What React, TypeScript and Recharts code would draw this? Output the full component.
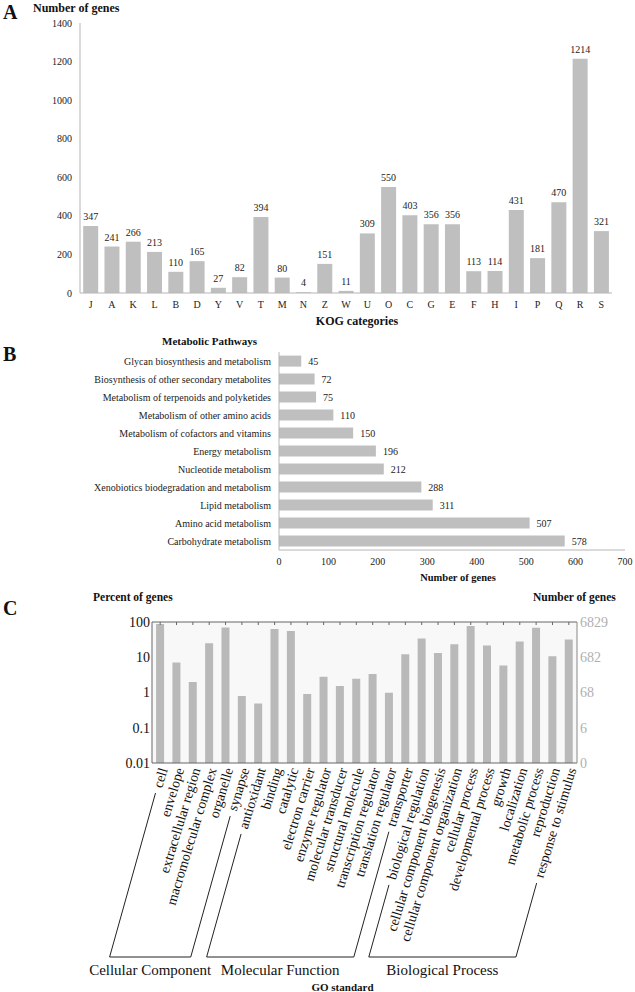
import { Bar, BarChart, CartesianGrid, LabelList, XAxis, YAxis } from 'recharts'

const SERIF = '"Liberation Serif", "Times New Roman", serif'

// A: KOG categories
const kogCategories = ['J', 'A', 'K', 'L', 'B', 'D', 'Y', 'V', 'T', 'M', 'N', 'Z', 'W', 'U', 'O', 'C', 'G', 'E', 'F', 'H', 'I', 'P', 'Q', 'R', 'S']
const kogCounts = [347, 241, 266, 213, 110, 165, 27, 82, 394, 80, 4, 151, 11, 309, 550, 403, 356, 356, 113, 114, 431, 181, 470, 1214, 321]
const kogTicks = [0, 200, 400, 600, 800, 1000, 1200, 1400]

// B: KEGG metabolic pathways
const pathways = [
  'Glycan biosynthesis and metabolism',
  'Biosynthesis of other secondary metabolites',
  'Metabolism of terpenoids and polyketides',
  'Metabolism of other amino acids',
  'Metabolism of cofactors and vitamins',
  'Energy metabolism',
  'Nucleotide metabolism',
  'Xenobiotics biodegradation and metabolism',
  'Lipid metabolism',
  'Amino acid metabolism',
  'Carbohydrate metabolism',
]
const pathwayCounts = [45, 72, 75, 110, 150, 196, 212, 288, 311, 507, 578]
const pathwayTicks = [0, 100, 200, 300, 400, 500, 600, 700]

// C: GO terms
const goTerms = [
  'cell', 'envelope', 'extracellular region', 'macromolecular complex', 'organelle', 'synapse',
  'antioxidant', 'binding', 'catalytic', 'electron carrier', 'enzyme regulator', 'molecular transducer',
  'structural molecule', 'transcription regulator', 'translation regulator', 'transporter',
  'biological regulation', 'cellular component biogenesis', 'cellular component organization',
  'cellular process', 'developmental process', 'growth', 'localization', 'metabolic process',
  'reproduction', 'response to stimulus',
]
const goPercents = [
  88, 7.1, 2.0, 25, 70, 0.8,
  0.49, 63, 56, 0.91, 2.8, 1.53,
  2.46, 3.33, 0.99, 12.2,
  34, 13.3, 23.4,
  77, 21.5, 5.85, 28, 69,
  10.7, 31.7,
]
const percentTicks = [0.01, 0.1, 1, 10, 100]
const countTickLabels = ['0', '6', '68', '682', '6829']
const goGroups = ['Cellular Component', 'Molecular Function', 'Biological Process']
const goGroupFirst = [0, 6, 16]
const goGroupLast = [5, 15, 25]

const kogData = kogCategories.map((cat, i) => ({ cat, count: kogCounts[i] }))
const keggData = pathways.map((pathway, i) => ({ pathway, genes: pathwayCounts[i] }))
const goData = goTerms.map((term, i) => ({ term, percent: goPercents[i] }))

const ANGLE = -73
const DX = Math.cos((ANGLE * Math.PI) / 180)
const DY = Math.sin((ANGLE * Math.PI) / 180)
const SLOPE = 0.28
const BRACKET_DROP = 192

let measureCtx: CanvasRenderingContext2D | null = null
const textWidth = (s: string) => {
  if (!measureCtx) measureCtx = document.createElement('canvas').getContext('2d')
  if (!measureCtx) return s.length * 6.2
  measureCtx.font = `14px ${SERIF}`
  return measureCtx.measureText(s).width
}

const bracketStart: Record<number, number> = {}

function GoTick(props: any) {
  const { x, y, payload } = props
  const i: number = typeof props.index === 'number' ? props.index : payload.index
  const label = String(payload.value)
  const ex = x + 3
  const ey = y + 3
  const len = textWidth(label) + 6
  const tx = ex - DX * len
  const ty = ey - DY * len
  const baseY = y + BRACKET_DROP
  const bx = tx - SLOPE * (baseY - ty)
  const g1 = goGroupFirst.indexOf(i)
  const g2 = goGroupLast.indexOf(i)
  if (g1 >= 0) bracketStart[g1] = bx

  return (
    <g>
      <text
        x={ex}
        y={ey}
        dy="0.35em"
        textAnchor="end"
        transform={`rotate(${ANGLE} ${ex} ${ey})`}
        fontSize={14}
        fontFamily={SERIF}
        fill="#111"
      >
        {label}
      </text>
      {(g1 >= 0 || g2 >= 0) && <line x1={tx} y1={ty} x2={bx} y2={baseY} stroke="#222" strokeWidth={1} />}
      {g2 >= 0 && bracketStart[g2] !== undefined && (
        <>
          <line x1={bracketStart[g2]} y1={baseY} x2={bx} y2={baseY} stroke="#222" strokeWidth={1} />
          <text x={(bracketStart[g2] + bx) / 2} y={baseY + 18} textAnchor="middle" fontSize={15} fontFamily={SERIF} fill="#111">
            {goGroups[g2]}
          </text>
        </>
      )}
    </g>
  )
}

function PathwayTick(props: any) {
  const { x, y, payload } = props
  return (
    <text x={x} y={y} dy="0.35em" textAnchor="end" fontSize={10} fontFamily={SERIF} fill="#222">
      {payload.value}
    </text>
  )
}

const title = (text: string, left: number, top: number, size: number) => (
  <div style={{ position: 'absolute', left, top, fontSize: size, fontWeight: 'bold', lineHeight: 1, whiteSpace: 'nowrap' }}>
    {text}
  </div>
)

const tickStyle = { fontSize: 10, fill: '#222', fontFamily: SERIF }

export default function App() {
  return (
    <div style={{ position: 'absolute', left: 0, top: 0, width: 635, height: 992, background: '#fff', fontFamily: SERIF, color: '#111' }}>
      {title('A', 3, 2, 20)}
      {title('Number of genes', 33, 2, 12)}
      {title('B', 3, 344, 20)}
      {title('Metabolic Pathways', 162, 336, 11)}
      {title('C', 3, 598, 20)}
      {title('Percent of genes', 93, 592, 11.5)}
      {title('Number of genes', 533, 592, 11.5)}

      <div style={{ position: 'absolute', left: 0, top: 0 }}>
        <BarChart width={635} height={330} data={kogData} margin={{ top: 23, right: 23, left: 20, bottom: 0 }} barCategoryGap="15%">
          <XAxis
            dataKey="cat"
            interval={0}
            tickLine={false}
            axisLine={{ stroke: '#b5b5b5' }}
            tick={tickStyle}
            height={37}
            label={{ value: 'KOG categories', position: 'insideBottom', offset: 5, dx: 11, fontSize: 12, fontWeight: 'bold', fill: '#111', fontFamily: SERIF }}
          />
          <YAxis
            width={60}
            domain={[0, 1400]}
            ticks={kogTicks}
            interval={0}
            tickLine={false}
            axisLine={{ stroke: '#b5b5b5' }}
            tick={tickStyle}
          />
          <Bar dataKey="count" fill="#bfbfbf" isAnimationActive={false}>
            <LabelList dataKey="count" position="top" offset={6} fontSize={10} fill="#222" fontFamily={SERIF} />
          </Bar>
        </BarChart>
      </div>

      <div style={{ position: 'absolute', left: 0, top: 330 }}>
        <BarChart
          layout="vertical"
          width={635}
          height={255}
          data={keggData}
          margin={{ top: 22, right: 10, left: 0, bottom: 0 }}
          barCategoryGap="20%"
        >
          <XAxis
            type="number"
            domain={[0, 700]}
            ticks={pathwayTicks}
            interval={0}
            tickLine={false}
            axisLine={{ stroke: '#b5b5b5' }}
            tick={tickStyle}
            height={35}
            label={{ value: 'Number of genes', position: 'insideBottom', offset: 4, dx: 6, fontSize: 10.5, fontWeight: 'bold', fill: '#111', fontFamily: SERIF }}
          />
          <YAxis
            type="category"
            dataKey="pathway"
            width={279}
            interval={0}
            tickLine={false}
            axisLine={{ stroke: '#b5b5b5' }}
            tick={(p: any) => <PathwayTick {...p} />}
          />
          <Bar dataKey="genes" fill="#bfbfbf" isAnimationActive={false}>
            <LabelList dataKey="genes" position="right" offset={7} fontSize={10} fill="#222" fontFamily={SERIF} />
          </Bar>
        </BarChart>
      </div>

      <div style={{ position: 'absolute', left: 0, top: 610 }}>
        <BarChart width={635} height={382} data={goData} margin={{ top: 11, right: 0, left: 0, bottom: 0 }} barCategoryGap="25%">
          <CartesianGrid horizontal={false} vertical={false} fill="#f8f8f8" />
          <XAxis
            dataKey="term"
            interval={0}
            tickLine={false}
            tickSize={0}
            tickMargin={2}
            axisLine={{ stroke: '#666' }}
            tick={(p: any) => <GoTick {...p} />}
            height={229}
            label={{ value: 'GO standard', position: 'insideBottom', offset: 1, dx: -22, fontSize: 11, fontWeight: 'bold', fill: '#111', fontFamily: SERIF }}
          />
          <XAxis
            xAxisId="top"
            dataKey="term"
            orientation="top"
            height={1}
            interval={0}
            tickSize={-3}
            tick={() => <g />}
            axisLine={{ stroke: '#666' }}
            tickLine={{ stroke: '#666' }}
          />
          <YAxis
            scale="log"
            type="number"
            domain={[0.01, 100]}
            allowDataOverflow
            ticks={percentTicks}
            interval={0}
            width={152}
            tickLine={false}
            tickSize={0}
            tickMargin={2}
            axisLine={{ stroke: '#666' }}
            tick={{ fontSize: 14, fill: '#111', fontFamily: SERIF }}
          />
          <YAxis
            yAxisId="right"
            orientation="right"
            scale="log"
            type="number"
            domain={[0.01, 100]}
            allowDataOverflow
            ticks={percentTicks}
            interval={0}
            width={58}
            tickLine={false}
            tickSize={0}
            tickMargin={3}
            axisLine={{ stroke: '#888' }}
            tick={{ fontSize: 14, fill: '#b0b0b0', fontFamily: SERIF }}
            tickFormatter={(_v: number, i: number) => countTickLabels[i]}
          />
          <Bar dataKey="percent" fill="#b9b9b9" isAnimationActive={false} />
        </BarChart>
      </div>
    </div>
  )
}
